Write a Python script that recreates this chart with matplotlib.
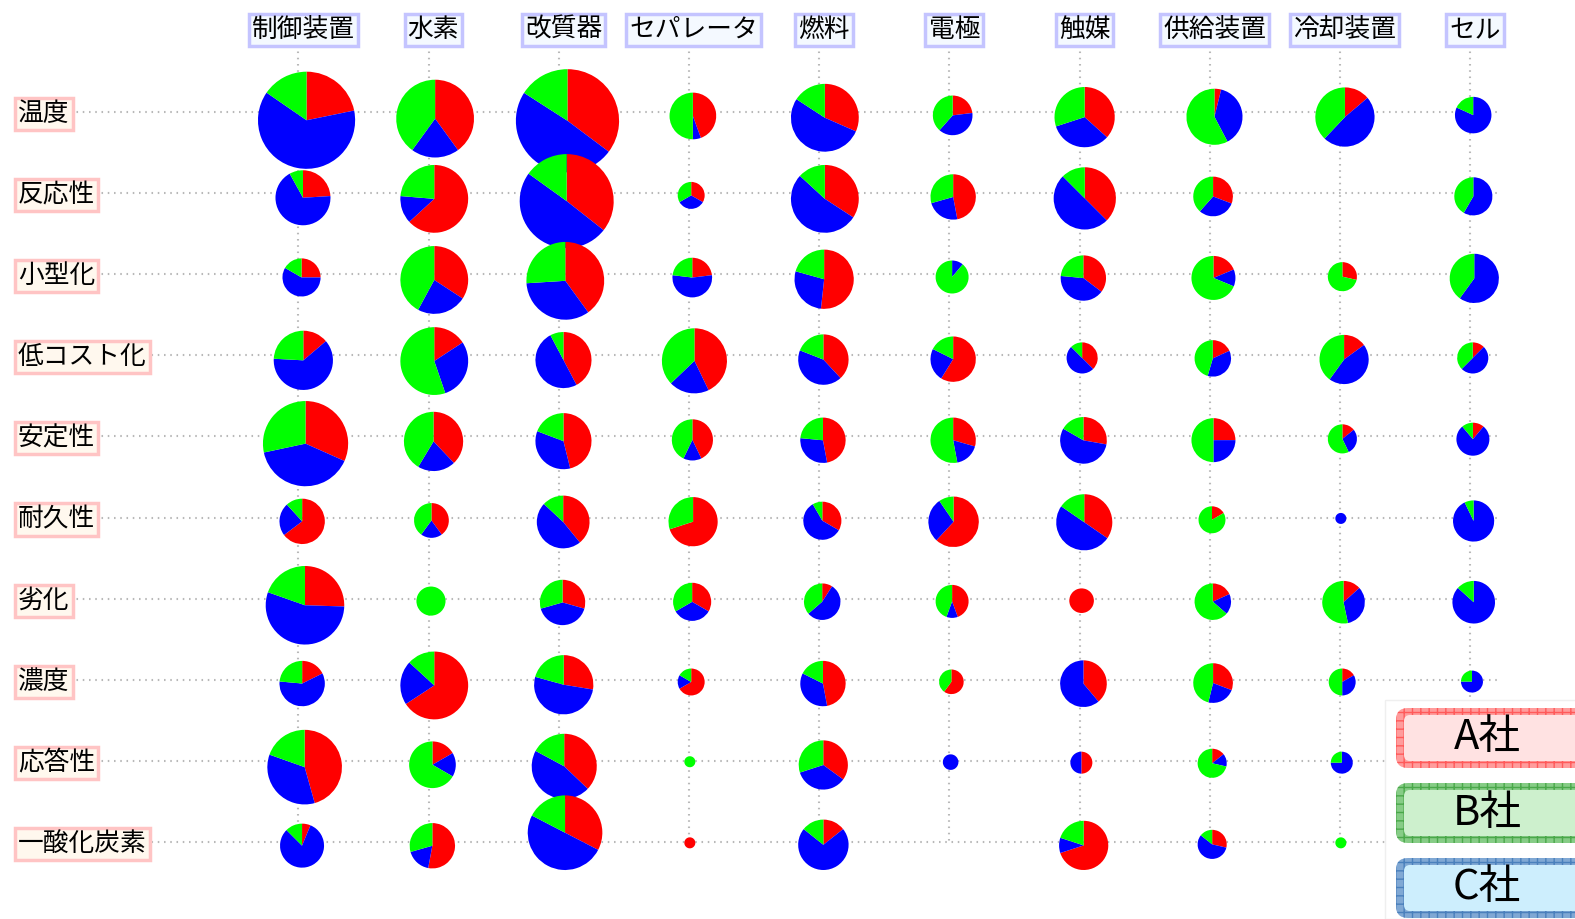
import numpy as np
import matplotlib.pyplot as plt
from matplotlib.patches import FancyBboxPatch, Rectangle

plt.rcParams['font.family'] = ['Noto Sans CJK JP', 'DejaVu Sans']

items = ['制御装置', '水素', '改質器', 'セパレータ', '燃料', '電極', '触媒', '供給装置', '冷却装置', 'セル']
props = ['温度', '反応性', '小型化', '低コスト化', '安定性', '耐久性', '劣化', '濃度', '応答性', '一酸化炭素']
companies = ['A社', 'B社', 'C社']

# counts per (property row, item column)
a_vals = [
    [17, 20, 31, 8, 12, 3, 11, 1, 4, 0],
    [6, 24, 26, 2, 13, 8, 12, 4, 0, 0],
    [3, 13, 20, 3, 15, 0, 6, 3, 2, 0],
    [4, 6, 11, 15, 8, 10, 3, 2, 3, 1],
    [19, 11, 12, 6, 8, 5, 5, 4, 1, 1],
    [11, 4, 9, 14, 4, 13, 9, 1, 0, 0],
    [13, 0, 5, 4, 1, 4, 5, 2, 2, 0],
    [3, 25, 8, 4, 8, 3, 7, 4, 1, 0],
    [21, 3, 13, 0, 7, 0, 2, 1, 0, 0],
    [1, 9, 15, 1, 3, 0, 14, 2, 0, 0],
]
b_vals = [
    [12, 20, 14, 9, 6, 5, 9, 15, 11, 2],
    [2, 9, 11, 2, 5, 5, 4, 5, 0, 5],
    [2, 16, 13, 3, 6, 8, 4, 11, 5, 8],
    [7, 21, 2, 13, 4, 3, 1, 5, 8, 3],
    [17, 12, 5, 6, 4, 9, 3, 8, 4, 1],
    [2, 4, 3, 6, 1, 2, 4, 5, 0, 1],
    [10, 7, 5, 4, 4, 4, 0, 7, 8, 2],
    [4, 5, 6, 1, 3, 2, 0, 6, 3, 1],
    [9, 12, 6, 1, 6, 0, 0, 5, 1, 0],
    [2, 5, 8, 0, 3, 0, 4, 1, 1, 0],
]
c_vals = [
    [49, 10, 43, 1, 20, 5, 10, 10, 14, 9],
    [17, 5, 36, 2, 20, 4, 16, 4, 0, 7],
    [7, 9, 17, 7, 8, 1, 7, 2, 0, 12],
    [18, 11, 13, 7, 9, 4, 4, 4, 9, 4],
    [24, 6, 9, 2, 5, 3, 10, 4, 2, 7],
    [4, 2, 11, 0, 7, 6, 13, 0, 1, 13],
    [28, 0, 7, 4, 6, 1, 0, 2, 5, 13],
    [10, 8, 15, 1, 6, 0, 11, 3, 2, 3],
    [16, 3, 16, 0, 7, 2, 2, 1, 3, 0],
    [13, 3, 23, 0, 15, 0, 2, 4, 0, 0],
]

W, H = 1575, 919
fig = plt.figure(figsize=(W / 100, H / 100), dpi=100)
ax = fig.add_axes([0, 0, 1, 1])

col_x = 298.3 + 130.2 * np.arange(len(items))
row_y = 112 + 81.1 * np.arange(len(props))   # pixels from top
plot_bottom = 870                               # pies are kept above this line
unit_r = 5.5
red, green, blue = '#ff0000', '#00ff00', '#0000ff'
grid_kw = dict(color='#b8b8b8', lw=1.5, linestyle=(0, (0.75, 2.25)), zorder=1)

# dotted grid
for y in row_y:
    ax.plot([14, 1500], [H - y, H - y], **grid_kw)
for x in col_x:
    ax.plot([x, x], [H - 14, H - row_y[-1]], **grid_kw)

# pies: A (red) then C (blue) then B (green), clockwise from 12 o'clock
for j in range(len(props)):
    for i in range(len(items)):
        vals = [a_vals[j][i], c_vals[j][i], b_vals[j][i]]
        total = sum(vals)
        if total == 0:
            continue
        r = unit_r * np.sqrt(total)
        cx = col_x[i] + 0.17 * r
        cy = H - min(row_y[j] + 0.17 * r, plot_bottom - r)
        wedges, _ = ax.pie(vals, colors=[red, blue, green], startangle=90,
                           counterclock=False, center=(cx, cy), radius=r,
                           frame=True, wedgeprops=dict(linewidth=0))
        for w in wedges:
            w.set_zorder(2)

# column labels
for i, name in enumerate(items):
    ax.text(col_x[i] + 5, H - 30, name, fontsize=18.5, ha='center', va='center', zorder=3,
            bbox=dict(boxstyle='square,pad=0.12', fc='#f4f9ff', ec='#c4c4ff', lw=2.5))

# row labels
for j, name in enumerate(props):
    ax.text(18, H - row_y[j] - 2, name, fontsize=18.5, ha='left', va='center', zorder=3,
            bbox=dict(boxstyle='square,pad=0.12', fc='#fff8ee', ec='#ffc4c4', lw=2.5))

# legend panel
ax.add_patch(Rectangle((1385, 0), 200, H - 700, fc='white', ec='#efefef', lw=1, zorder=4))
leg_styles = [
    ('#ff9c9c', '#ff5a5a', '#ffe2e2'),
    ('#86cc86', '#4aa84a', '#cdf0cd'),
    ('#80a8d4', '#4a80bc', '#cdeefd'),
]
leg_top = [708, 783, 858]
for k, name in enumerate(companies):
    outer, hatch_c, face = leg_styles[k]
    y0 = H - leg_top[k] - 60
    ax.add_patch(FancyBboxPatch((1396, y0), 220, 60, boxstyle='round,pad=0,rounding_size=12',
                                fc=outer, ec=hatch_c, hatch='++', lw=0, zorder=5))
    ax.add_patch(FancyBboxPatch((1404, y0 + 7), 210, 46, boxstyle='round,pad=0,rounding_size=6',
                                fc=face, ec='none', zorder=6))
    ax.text(1487, y0 + 30, name, fontsize=30, ha='center', va='center', zorder=7)

ax.set_xlim(0, W)
ax.set_ylim(0, H)
ax.set_aspect('auto')
ax.axis('off')
fig.savefig('out.png', dpi=100)
